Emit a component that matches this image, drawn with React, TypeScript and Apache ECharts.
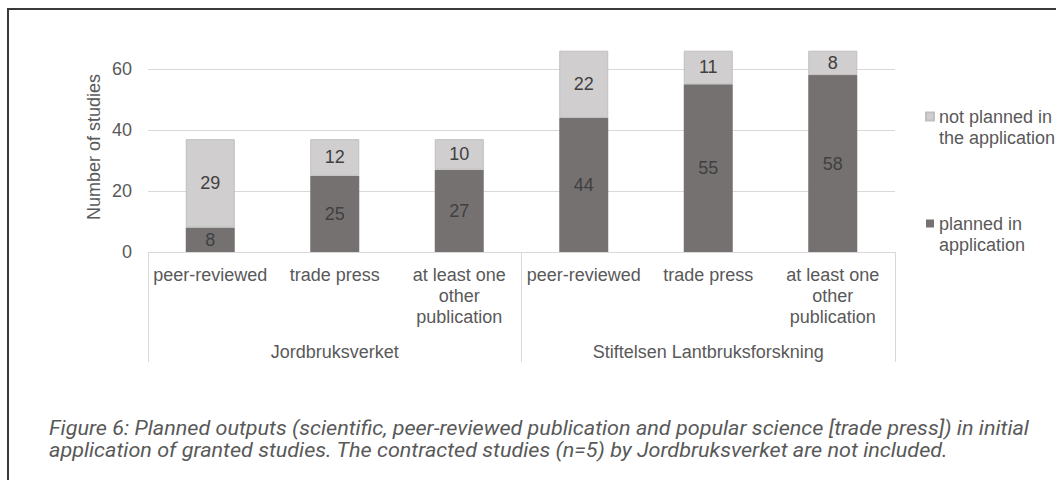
import React, { useEffect, useRef } from "react";
import * as echarts from "echarts";

const categories = [
  "peer-reviewed",
  "trade press",
  "at least one other publication",
  "peer-reviewed",
  "trade press",
  "at least one other publication",
];
const groups = ["Jordbruksverket", "Stiftelsen Lantbruksforskning"];
const plannedName = "planned in application";
const notPlannedName = "not planned in the application";
const planned = [8, 25, 27, 44, 55, 58];
const notPlanned = [29, 12, 10, 22, 11, 8];
const yTicks = [0, 20, 40, 60];
const yTitle = "Number of studies";
const caption1 =
  "Figure 6: Planned outputs (scientific, peer-reviewed publication and popular science [trade press]) in initial";
const caption2 =
  "application of granted studies. The contracted studies (n=5) by Jordbruksverket are not included.";

const wrapMap: Record<string, string> = {
  "at least one other publication": "at least one\nother\npublication",
};
const legendMap: Record<string, string> = {
  "not planned in the application": "\nnot planned in\nthe application",
  "planned in application": "\nplanned in\napplication",
};

const FONT = "'Liberation Sans', Arial, sans-serif";
const TXT = "#595959";

export default function App() {
  const ref = useRef<HTMLDivElement>(null);
  useEffect(() => {
    if (!ref.current) return;
    const chart = echarts.init(ref.current, undefined, { renderer: "svg" });
    const labelStyle = {
      show: true,
      position: "inside",
      color: "#404040",
      fontSize: 18,
      fontFamily: FONT,
    };
    chart.setOption({
      animation: false,
      backgroundColor: "#ffffff",
      textStyle: { fontFamily: FONT },
      grid: { left: 148, top: 69, width: 747, height: 183, containLabel: false },
      legend: {
        left: 920,
        top: 80,
        orient: "vertical",
        itemWidth: 8,
        itemHeight: 8,
        itemGap: 44,
        icon: "rect",
        data: [notPlannedName, plannedName],
        formatter: (n: string) => legendMap[n] || n,
        textStyle: {
          color: TXT,
          fontSize: 18,
          fontFamily: FONT,
          lineHeight: 21,
        },
      },
      xAxis: [
        {
          type: "category",
          data: categories,
          axisLine: { show: true, lineStyle: { color: "#d9d9d9", width: 1 } },
          axisTick: { show: false },
          axisLabel: {
            interval: 0,
            margin: 12,
            color: TXT,
            fontSize: 18,
            fontFamily: FONT,
            lineHeight: 21,
            formatter: (v: string) => wrapMap[v] || v,
          },
        },
        {
          type: "category",
          data: groups,
          position: "bottom",
          axisLine: { show: false },
          axisTick: {
            show: true,
            length: 110,
            lineStyle: { color: "#d9d9d9", width: 1 },
          },
          axisLabel: {
            interval: 0,
            margin: 91,
            color: TXT,
            fontSize: 18,
            fontFamily: FONT,
            lineHeight: 18,
          },
          splitLine: { show: false },
        },
      ],
      yAxis: {
        type: "value",
        min: yTicks[0],
        max: yTicks[yTicks.length - 1],
        interval: yTicks[1] - yTicks[0],
        axisLine: { show: false },
        axisTick: { show: false },
        axisLabel: { color: TXT, fontSize: 18, fontFamily: FONT, margin: 16 },
        splitLine: { lineStyle: { color: "#d9d9d9", width: 1 } },
      },
      series: [
        {
          name: plannedName,
          type: "bar",
          stack: "s",
          clip: false,
          barWidth: 49,
          data: planned,
          itemStyle: { color: "#767171" },
          label: labelStyle,
        },
        {
          name: notPlannedName,
          type: "bar",
          stack: "s",
          clip: false,
          barWidth: 49,
          data: notPlanned,
          itemStyle: { color: "#d0cece", borderColor: "#bfbfbf", borderWidth: 1 },
          label: labelStyle,
        },
      ],
      graphic: [
        {
          type: "rect",
          shape: { x: 8, y: 9, width: 1200, height: 600 },
          style: { fill: "none", stroke: "#3a3a3a", lineWidth: 2 },
          silent: true,
        },
        {
          type: "text",
          x: 94,
          y: 147,
          rotation: Math.PI / 2,
          style: {
            text: yTitle,
            fill: TXT,
            font: "18px " + FONT,
            align: "center",
            verticalAlign: "middle",
          },
        },
        {
          type: "text",
          x: 49,
          y: 428,
          scaleX: 1.08,
          style: {
            text: caption1,
            fill: TXT,
            font: "italic 20px Roboto",
            verticalAlign: "middle",
          },
        },
        {
          type: "text",
          x: 49,
          y: 450.5,
          scaleX: 1.08,
          style: {
            text: caption2,
            fill: TXT,
            font: "italic 20px Roboto",
            verticalAlign: "middle",
          },
        },
      ],
    });
    return () => chart.dispose();
  }, []);
  return (
    <div
      ref={ref}
      style={{ position: "fixed", left: 0, top: 0, width: 1056, height: 480 }}
    />
  );
}
